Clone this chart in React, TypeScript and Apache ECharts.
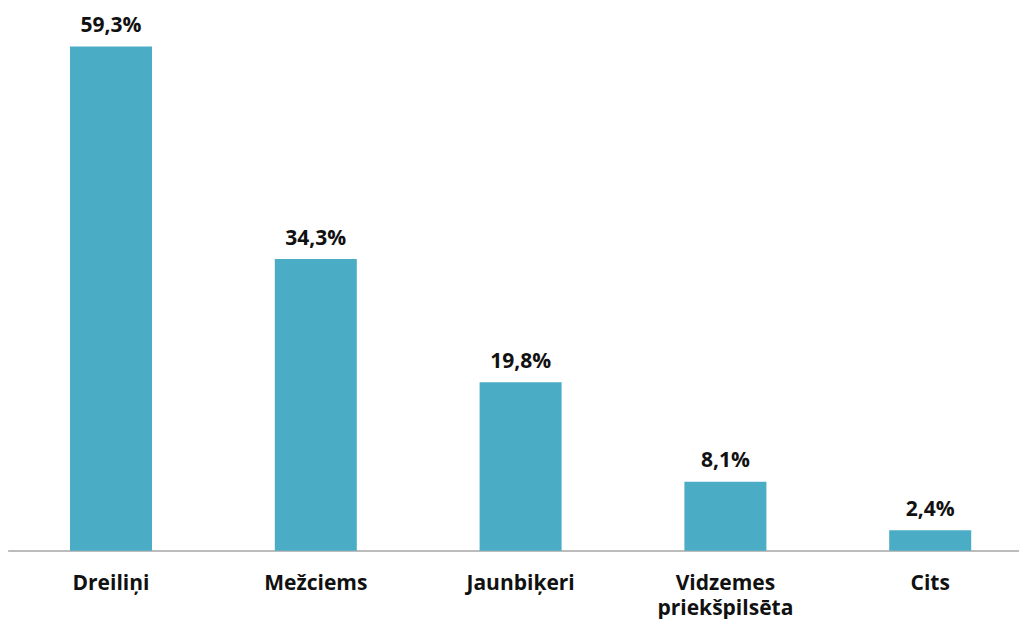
import React, { useEffect, useRef } from "react";
import * as echarts from "echarts";

const categories = ["Dreiliņi", "Mežciems", "Jaunbiķeri", "Vidzemes\npriekšpilsēta", "Cits"];
const values = [59.3, 34.3, 19.8, 8.1, 2.4];

export default function App() {
  const ref = useRef<HTMLDivElement>(null);
  useEffect(() => {
    const chart = echarts.init(ref.current!, null, { renderer: "svg" });
    chart.setOption({
      animation: false,
      grid: {
        left: 8.6,
        top: 40.5,
        width: 1024,
        bottom: 68.3,
        containLabel: false,
        outerBoundsMode: "none",
      },
      xAxis: {
        type: "category",
        data: categories,
        axisLine: { lineStyle: { color: "#a6a6a6", width: 1.5 } },
        axisTick: { show: false },
        axisLabel: {
          fontFamily: "Open Sans",
          fontWeight: "bold",
          fontSize: 21,
          color: "#111",
          margin: 19,
          lineHeight: 25,
          interval: 0,
        },
      },
      yAxis: {
        type: "value",
        min: 0,
        max: 60,
        show: false,
        splitLine: { show: false },
      },
      series: [
        {
          type: "bar",
          data: values,
          barWidth: 82,
          itemStyle: { color: "#4bacc6" },
          label: {
            show: true,
            position: "top",
            distance: 11.5,
            fontFamily: "Open Sans",
            fontWeight: "bold",
            fontSize: 21,
            lineHeight: 22,
            color: "#111",
            formatter: (p: any) => p.value.toFixed(1).replace(".", ",") + "%",
          },
        },
      ],
    });
    return () => chart.dispose();
  }, []);
  return (
    <div
      ref={ref}
      style={{ position: "absolute", left: 0, top: 0, width: 1019, height: 619, background: "#fff" }}
    />
  );
}
